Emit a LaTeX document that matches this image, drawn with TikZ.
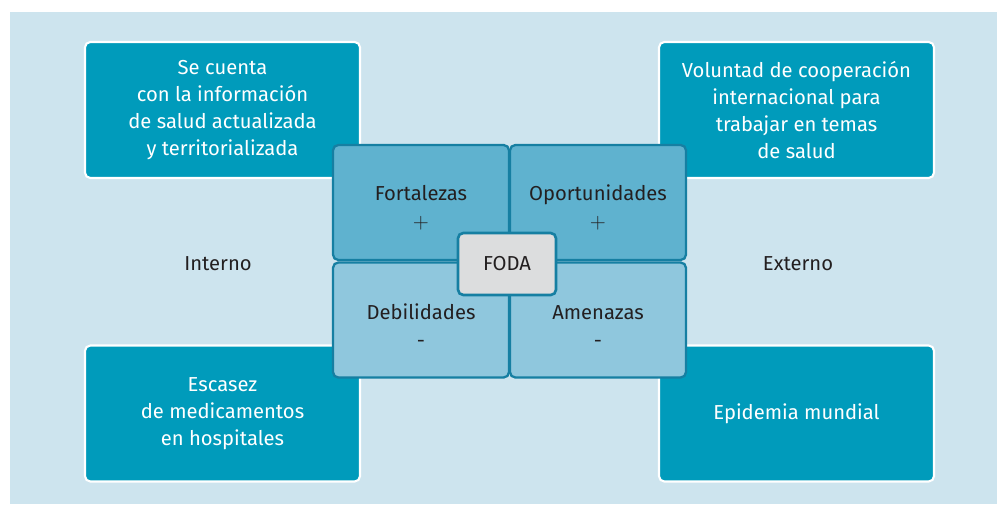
\documentclass[tikz,border=0pt]{standalone}
\usepackage{fontspec}
\setmainfont{Fira Sans}
\definecolor{fondo}{HTML}{CDE4EE}
\definecolor{caja}{HTML}{009BBB}
\definecolor{cuadalto}{HTML}{5FB2CF}
\definecolor{cuadbajo}{HTML}{8FC7DD}
\definecolor{borde}{HTML}{167FA2}
\definecolor{centro}{HTML}{DCDDDE}
\definecolor{texto}{HTML}{231F20}
\tikzset{
  ejemplo/.style={shape=rectangle,rounded corners=3pt,draw=white,line width=1.2pt,fill=caja,
    minimum width=5.5cm,minimum height=2.72cm,text=white,align=center,
    font=\fontsize{11.5pt}{15.4pt}\selectfont},
  cuadrante/.style={shape=rectangle,rounded corners=3pt,draw=borde,line width=1.3pt,
    minimum width=3.52cm,minimum height=2.3cm,text=texto,align=center,
    font=\fontsize{11.5pt}{15.8pt}\selectfont},
  eje/.style={text=texto,font=\fontsize{11.5pt}{15.4pt}\selectfont}
}
\begin{document}
\begin{tikzpicture}[x=0.02cm,y=-0.02cm]
\useasboundingbox (0,0) rectangle (997,504);
\fill[fondo] (10,12) rectangle (997,504);

\path (222.5,110) node (fort) [ejemplo] {Se cuenta\\con la información\\de salud actualizada\\y territorializada};
\path (796.5,110) node (opor) [ejemplo] {Voluntad de cooperación\\internacional para\\trabajar en temas\\de salud};
\path (222.5,413.5) node (debil) [ejemplo] {Escasez\\de medicamentos\\en hospitales};
\path (796.5,413.5) node (amen) [ejemplo] {Epidemia mundial};

\path (218,264) node (interno) [eje] {Interno};
\path (798,264) node (externo) [eje] {Externo};

\path (421,202.5) node (F) [cuadrante,fill=cuadalto] {\rule{0pt}{15pt}Fortalezas\\$+$};
\path (598,202.5) node (O) [cuadrante,fill=cuadalto] {\rule{0pt}{15pt}Oportunidades\\$+$};
\path (421,320) node (D) [cuadrante,fill=cuadbajo] {\rule{0pt}{15pt}Debilidades\\-};
\path (598,320) node (A) [cuadrante,fill=cuadbajo] {\rule{0pt}{15pt}Amenazas\\-};

\path (507,264) node (foda) [shape=rectangle,rounded corners=3pt,draw=borde,line width=1.5pt,fill=centro,
  minimum width=1.96cm,minimum height=1.24cm,text=texto,font=\fontsize{11.5pt}{15.4pt}\selectfont] {FODA};
\end{tikzpicture}
\end{document}
